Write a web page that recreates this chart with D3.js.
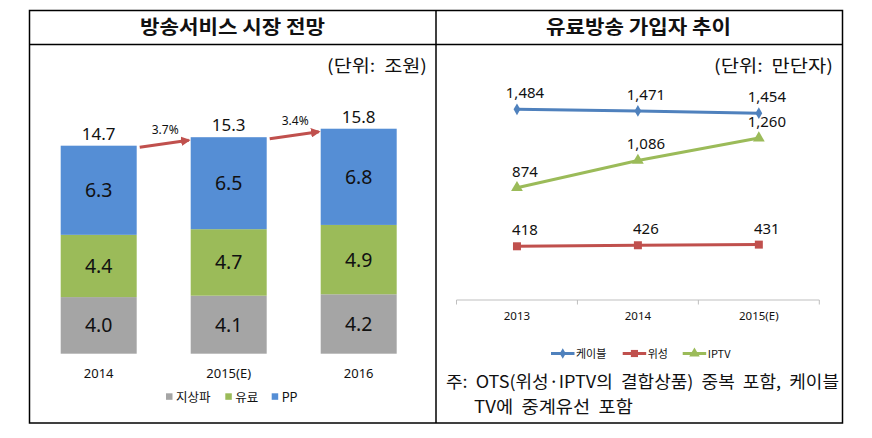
<!DOCTYPE html>
<html><head><meta charset="utf-8">
<script src="https://cdn.jsdelivr.net/npm/d3@7"></script>
<style>
html,body{margin:0;padding:0;background:#fff;}
svg{display:block;font-family:"Noto Sans CJK KR","Noto Sans",sans-serif;}
</style></head>
<body>
<svg id="c" width="872" height="438"></svg>
<script>
// ---- Left chart data ----
const marketYears = ["2014", "2015(E)", "2016"];
const seriesNames = ["지상파", "유료", "PP"];
const terrestrial = [4.0, 4.1, 4.2];
const paid = [4.4, 4.7, 4.9];
const pp = [6.3, 6.5, 6.8];
const totals = [14.7, 15.3, 15.8];
const growth = ["3.7%", "3.4%"];
const marketColors = ["#A5A5A5", "#9BBB59", "#558ED5"];

// ---- Right chart data ----
const subYears = ["2013", "2014", "2015(E)"];
const lineNames = ["케이블", "위성", "IPTV"];
const cable = [1484, 1471, 1454];
const satellite = [418, 426, 431];
const iptv = [874, 1086, 1260];
const lineColors = ["#4F81BD", "#C0504D", "#9BBB59"];
const lineSymbols = [d3.symbolDiamond, d3.symbolSquare, d3.symbolTriangle];

const titles = ["방송서비스 시장 전망", "유료방송 가입자 추이"];
const units = ["(단위:  조원)", "(단위:  만단자)"];
const noteLines = ["주:  OTS(위성·IPTV의  결합상품)  중복  포함,  케이블", "TV에  중계유선  포함"];

const svg = d3.select("#c");

// ---- table frame ----
const T = {l: 29.5, r: 842.5, t: 10.5, h: 44.5, b: 423, m: 436};
const frame = svg.append("g").attr("stroke", "#000").attr("stroke-width", 1.5).attr("fill", "none");
frame.append("rect").attr("x", T.l).attr("y", T.t).attr("width", T.r - T.l).attr("height", T.b - T.t);
frame.append("line").attr("x1", T.l).attr("x2", T.r).attr("y1", T.h).attr("y2", T.h);
frame.append("line").attr("x1", T.m).attr("x2", T.m).attr("y1", T.t).attr("y2", T.b);

// titles
[140, 546].forEach((x, i) => {
  svg.append("text").attr("x", x).attr("y", 34)
    .attr("font-size", 19).attr("font-weight", "bold").attr("fill", "#111")
    .attr("textLength", 185).attr("lengthAdjust", "spacingAndGlyphs")
    .text(titles[i]);
});
// units
svg.append("text").attr("x", 327).attr("y", 72).attr("font-size", 17).attr("fill", "#111")
  .style("white-space", "pre")
  .attr("textLength", 100).attr("lengthAdjust", "spacingAndGlyphs").text(units[0]);
svg.append("text").attr("x", 714).attr("y", 72).attr("font-size", 17).attr("fill", "#111")
  .style("white-space", "pre")
  .attr("textLength", 119).attr("lengthAdjust", "spacingAndGlyphs").text(units[1]);

// ---- Left stacked bar chart ----
const xL = d3.scaleBand().domain(marketYears).range([33.7, 423.7]).paddingInner(0.4154).paddingOuter(0.2077);
const yL = d3.scaleLinear().domain([0, 18]).range([353.7, 99]);
const rows = marketYears.map((y, i) => ({year: y, "지상파": terrestrial[i], "유료": paid[i], "PP": pp[i]}));
const stack = d3.stack().keys(seriesNames)(rows);

const gL = svg.append("g");
stack.forEach((layer, si) => {
  layer.forEach((d, i) => {
    gL.append("rect")
      .attr("x", xL(marketYears[i])).attr("width", xL.bandwidth())
      .attr("y", yL(d[1])).attr("height", yL(d[0]) - yL(d[1]))
      .attr("fill", marketColors[si]);
    gL.append("text")
      .attr("x", xL(marketYears[i]) + xL.bandwidth() / 2)
      .attr("y", (yL(d[0]) + yL(d[1])) / 2 + 7)
      .attr("text-anchor", "middle").attr("font-size", 19.5).attr("fill", "#111")
      .attr("font-family", "'Noto Sans',sans-serif")
      .text(d3.format(".1f")(d.data[seriesNames[si]]));
  });
});
const tops = stack[stack.length - 1].map(d => yL(d[1]));
totals.forEach((t, i) => {
  gL.append("text")
    .attr("x", xL(marketYears[i]) + xL.bandwidth() / 2)
    .attr("y", tops[i] - 6)
    .attr("text-anchor", "middle").attr("font-size", 17).attr("fill", "#111")
    .attr("font-family", "'Noto Sans',sans-serif")
    .text(d3.format(".1f")(t));
});
// arrows
const defs = svg.append("defs");
defs.append("marker").attr("id", "ah").attr("viewBox", "0 0 10 10").attr("refX", 8).attr("refY", 5)
  .attr("markerWidth", 3.2).attr("markerHeight", 3.2).attr("orient", "auto")
  .append("path").attr("d", "M0,0 L10,5 L0,10 z").attr("fill", "#C0504D");
growth.forEach((g, i) => {
  const x1 = xL(marketYears[i]) + xL.bandwidth() + 3, y1 = tops[i] + 1.5;
  const x2 = xL(marketYears[i + 1]) - 2, y2 = tops[i + 1] + 3;
  gL.append("line").attr("x1", x1).attr("y1", y1).attr("x2", x2).attr("y2", y2)
    .attr("stroke", "#C0504D").attr("stroke-width", 3).attr("marker-end", "url(#ah)");
  gL.append("text").attr("x", (x1 + x2) / 2 + 1).attr("y", (y1 + y2) / 2 - 10)
    .attr("text-anchor", "middle").attr("font-size", 12).attr("fill", "#111")
    .attr("font-family", "'Noto Sans',sans-serif").text(g);
});
// category labels
marketYears.forEach(y => {
  gL.append("text").attr("x", xL(y) + xL.bandwidth() / 2).attr("y", 378)
    .attr("text-anchor", "middle").attr("font-size", 13).attr("fill", "#111")
    .attr("font-family", "'Noto Sans',sans-serif").text(y);
});
// legend left
const legL = [166, 225.3, 271.7];
seriesNames.forEach((n, i) => {
  gL.append("rect").attr("x", legL[i]).attr("y", 393.3).attr("width", 6.5).attr("height", 6.5).attr("fill", marketColors[i]);
  gL.append("text").attr("x", legL[i] + 10).attr("y", 401.5).attr("font-size", 12.5).attr("fill", "#111").text(n);
});

// ---- Right line chart ----
const xR = d3.scaleBand().domain(subYears).range([456.5, 819.3]);
const yR = d3.scaleLinear().domain([0, 1600]).range([300, 94.4]);
const gR = svg.append("g");
// axis
gR.append("line").attr("x1", xR.range()[0]).attr("x2", xR.range()[1]).attr("y1", 300).attr("y2", 300)
  .attr("stroke", "#BFBFBF").attr("stroke-width", 1);
const edges = subYears.map(y => xR(y)).concat([xR.range()[1]]);
edges.forEach(x => gR.append("line").attr("x1", x).attr("x2", x).attr("y1", 300).attr("y2", 304.5)
  .attr("stroke", "#BFBFBF").attr("stroke-width", 1));
subYears.forEach(y => gR.append("text").attr("x", xR(y) + xR.bandwidth() / 2).attr("y", 320)
  .attr("text-anchor", "middle").attr("font-size", 11.5).attr("fill", "#111")
  .attr("font-family", "'Noto Sans',sans-serif").text(y));

const series = [cable, satellite, iptv];
const cx = y => xR(y) + xR.bandwidth() / 2;
const line = d3.line().x((d, i) => cx(subYears[i])).y(d => yR(d));
const symSize = [40, 64, 60];
series.forEach((vals, si) => {
  gR.append("path").attr("d", line(vals)).attr("fill", "none")
    .attr("stroke", lineColors[si]).attr("stroke-width", 3);
  vals.forEach((v, i) => {
    const px = cx(subYears[i]), py = yR(v);
    gR.append("path").attr("d", d3.symbol().type(lineSymbols[si]).size(symSize[si])())
      .attr("transform", `translate(${px},${py})`).attr("fill", lineColors[si]);
    gR.append("text").attr("x", px + 8).attr("y", py - 11)
      .attr("text-anchor", "middle").attr("font-size", 15).attr("fill", "#111")
      .attr("font-family", "'Noto Sans',sans-serif").text(d3.format(",")(v));
  });
});
// legend right
const legR = [551, 622.7, 682.7];
lineNames.forEach((n, i) => {
  gR.append("line").attr("x1", legR[i]).attr("x2", legR[i] + 23.5).attr("y1", 353.5).attr("y2", 353.5)
    .attr("stroke", lineColors[i]).attr("stroke-width", 3);
  gR.append("path").attr("d", d3.symbol().type(lineSymbols[i]).size(symSize[i] * 0.8)())
    .attr("transform", `translate(${legR[i] + 11.75},353.5)`).attr("fill", lineColors[i]);
  gR.append("text").attr("x", legR[i] + 25).attr("y", 358).attr("font-size", 11).attr("fill", "#111").text(n);
});
// note
svg.append("text").attr("x", 446).attr("y", 388).attr("font-size", 17).attr("fill", "#111")
  .style("white-space", "pre")
  .attr("textLength", 393).attr("lengthAdjust", "spacingAndGlyphs").text(noteLines[0]);
svg.append("text").attr("x", 474).attr("y", 413).attr("font-size", 17).attr("fill", "#111")
  .style("white-space", "pre")
  .attr("textLength", 159).attr("lengthAdjust", "spacingAndGlyphs").text(noteLines[1]);
</script>
</body></html>
